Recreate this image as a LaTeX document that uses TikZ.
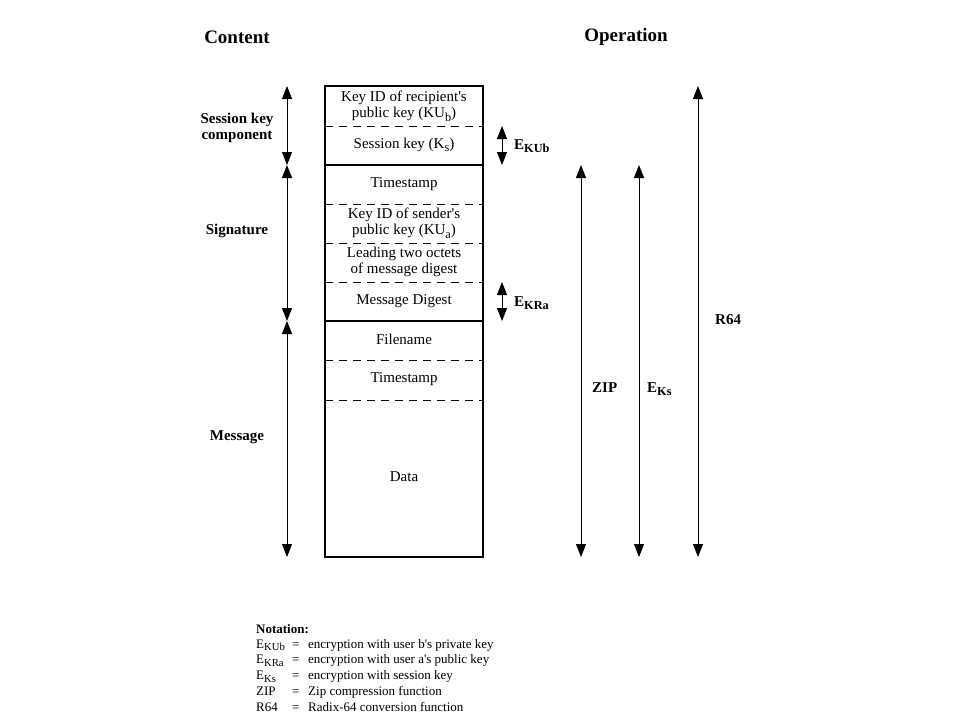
\documentclass[tikz,border=0pt]{standalone}
\usepackage{fontspec}
\setmainfont{Liberation Serif}
\usetikzlibrary{arrows.meta}
\newcommand\lsub[1]{\raisebox{-0.45ex}{\scalebox{0.82}{#1}}}
\newcommand\ap{\textquotesingle}
\begin{document}
\begin{tikzpicture}[x=1pt,y=-1pt,
  tipx/.tip={Triangle[width=10pt,length=13pt]},
  dbl/.style={line width=0.9pt,tipx-tipx},
  cell/.style={font=\fontsize{15}{16.5}\selectfont,align=center,inner sep=0pt},
  side/.style={font=\fontsize{15}{15.5}\selectfont\bfseries,align=center,inner sep=0pt},
  head/.style={font=\fontsize{19}{21}\selectfont\bfseries,inner sep=0pt},
  oplab/.style={font=\fontsize{15}{16}\selectfont\bfseries,anchor=west,inner sep=0pt},
  note/.style={font=\fontsize{13}{14}\selectfont,anchor=base west,inner sep=0pt},
  frame/.style={line width=1.3pt},
  sep/.style={line width=1pt,dash pattern=on 8pt off 6pt}]
\useasboundingbox (0,0) rectangle (960,720);
\fill[white] (0,0) rectangle (960,720);

% headers
\node[head] (hc) at (237,37) {Content};
\node[head] (ho) at (626,37) {Operation};

% box
\draw[frame] (325,86) rectangle (483,557);
\draw[frame] (325,165) -- (483,165);
\draw[frame] (325,321) -- (483,321);
\foreach \yy in {126,204,243,282,360,400}
  \draw[sep] (325,\yy) -- (483,\yy);

% cell texts
\node[cell] (c1) at (404,106) {Key ID of recipient\ap s\\public key (KU\lsub{b})};
\node[cell] (c2) at (404,145) {Session key (K\lsub{s})};
\node[cell] (c3) at (404,184) {Timestamp};
\node[cell] (c4) at (404,223) {Key ID of sender\ap s\\public key (KU\lsub{a})};
\node[cell] (c5) at (404,262) {Leading two octets\\of message digest};
\node[cell] (c6) at (404,301) {Message Digest};
\node[cell] (c7) at (404,339) {Filename};
\node[cell] (c8) at (404,379) {Timestamp};
\node[cell] (c9) at (404,477) {Data};

% left labels
\node[side] (ls) at (237,128) {Session key\\component};
\node[side] (lg) at (237,231) {Signature};
\node[side] (lm) at (237,437) {Message};

% coordinates for arrows
\coordinate (L0) at (287,86);
\coordinate (L1) at (287,165);
\coordinate (L2) at (287,321);
\coordinate (L3) at (287,557);
\coordinate (EA0) at (502,126);
\coordinate (EA1) at (502,165);
\coordinate (EB0) at (502,282);
\coordinate (EB1) at (502,321);
\coordinate (Z0) at (581,165);
\coordinate (Z1) at (581,557);
\coordinate (K0) at (639,165);
\coordinate (K1) at (639,557);
\coordinate (R0) at (698,86);
\coordinate (R1) at (698,557);

\draw[dbl] (L0) -- (L1);
\draw[dbl] (L1) -- (L2);
\draw[dbl] (L2) -- (L3);
\draw[dbl] (EA0) -- (EA1);
\draw[dbl] (EB0) -- (EB1);
\draw[dbl] (Z0) -- (Z1);
\draw[dbl] (K0) -- (K1);
\draw[dbl] (R0) -- (R1);

% operation labels
\node[oplab] (ekub) at (514,146) {E\lsub{KUb}};
\node[oplab] (ekra) at (514,303) {E\lsub{KRa}};
\node[oplab] (zip) at (592,388) {ZIP};
\node[oplab] (eks) at (647,389) {E\lsub{Ks}};
\node[oplab] (r64) at (715,320) {R64};

% notation
\node[note,font=\fontsize{13}{14}\selectfont\bfseries] (nt) at (256,633) {Notation:};
\node[note] (n1a) at (256,648) {E\lsub{KUb}};
\node[note] (n1b) at (292,648) {=};
\node[note] (n1c) at (308,648) {encryption with user b\ap s private key};
\node[note] (n2a) at (256,663.8) {E\lsub{KRa}};
\node[note] (n2b) at (292,663.8) {=};
\node[note] (n2c) at (308,663.8) {encryption with user a\ap s public key};
\node[note] (n3a) at (256,679.6) {E\lsub{Ks}};
\node[note] (n3b) at (292,679.6) {=};
\node[note] (n3c) at (308,679.6) {encryption with session key};
\node[note] (n4a) at (256,695.4) {ZIP};
\node[note] (n4b) at (292,695.4) {=};
\node[note] (n4c) at (308,695.4) {Zip compression function};
\node[note] (n5a) at (256,711.2) {R64};
\node[note] (n5b) at (292,711.2) {=};
\node[note] (n5c) at (308,711.2) {Radix-64 conversion function};
\end{tikzpicture}
\end{document}
